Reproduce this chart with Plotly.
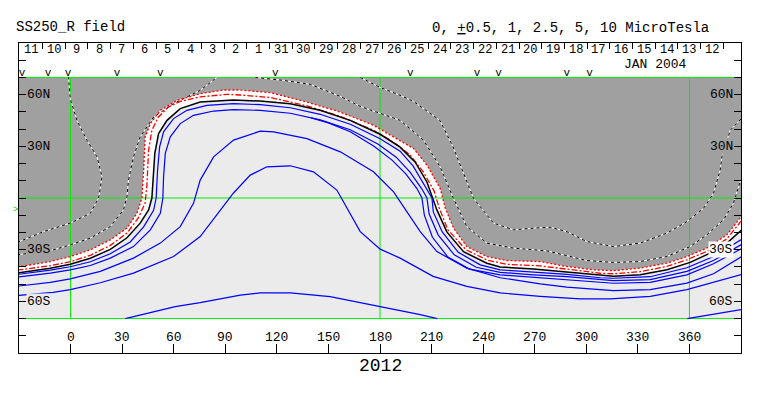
import plotly.graph_objects as go

# ---------------- data read from the map (Carrington longitude, latitude) -------------
# outer negative contour (black/white dashed), two pieces
neg_outer_a_lon = [-31, -15.7, -0.2, 11.5, 16.3, 18.3, 15.4, 9.5, 3.7, -0.2, -1.2]
neg_outer_a_lat = [-25.8, -19.5, -14.6, -8.9, 0, 12.3, 23.9, 33.6, 45.1, 57.7, 70]
neg_outer_b_lon = [168.5, 180.1, 191.7, 199.5, 214.8, 222.5, 228.6, 234.4, 246.0, 257.6, 269.3, 279.0,
                   288.7, 300.3, 315.8, 331.3, 346.9, 358.5, 368.2, 374.0, 377.9, 378.9, 383.7, 392]
neg_outer_b_lat = [70, 64.2, 59.6, 56.1, 45.1, 29.7, 14.3, -0.2, -14.6, -18.5, -17.5, -17.0,
                   -19.5, -25.3, -28.2, -26.2, -20.4, -13.7, -6.0, 2.7, 16.2, 23.9, 39.3, 48]
# inner negative contour (black/white dashed), two pieces
neg_inner_a_lon = [-31, -9.9, -0.2, 11.5, 23.1, 30.8, 32.8, 33.7, 36.6, 40.5, 48.3, 59.9, 75.4, 85.1]
neg_inner_a_lat = [-33, -30.1, -27.2, -23.3, -16.6, -6.9, 0.8, 10.4, 23.9, 35.5, 47.0, 54.8, 62.5, 70]
neg_inner_b_lon = [107.4, 123.7, 139.4, 156.9, 168.5, 180.1, 191.7, 205.3, 215.0, 222.7, 230.5, 242.2,
                   257.6, 277.1, 288.7, 300.3, 315.8, 331.3, 346.9, 360.4, 370.1, 379.8, 385.6, 389.5, 392]
neg_inner_b_lat = [70, 68.3, 66.0, 59.0, 53.2, 49.0, 45.1, 33.6, 18.1, -0.2, -16.6, -26.2,
                   -29.1, -30.7, -33.3, -36.3, -37.4, -36.9, -34.0, -28.2, -21.4, -12.7, -3.1, 9.4, 15]
# red dotted contour
red_dot_lon = [-31, -11.8, -0.2, 11.5, 23.1, 32.8, 38.6, 41.5, 42.5, 43.4, 46.4, 52.2, 61.9, 75.4, 89.0,
               98.7, 116.1, 137.5, 156.9, 176.2, 187.9, 199.5, 207.3, 215.0, 218.0, 222.8, 230.5, 242.2,
               253.8, 273.2, 288.7, 304.2, 315.8, 331.3, 346.9, 358.5, 370.1, 381.8, 392]
red_dot_lat = [-40.1, -36.9, -34.0, -30.1, -24.3, -17.5, -8.9, 0, 16.2, 35.5, 43.2, 50.9, 56.7, 60.6, 62.7,
               62.7, 61.2, 55.7, 49.9, 42.2, 35.5, 28.8, 19.1, 5.6, -6.0, -17.5, -28.2, -34.0,
               -36.3, -36.9, -39.8, -41.7, -42.2, -40.7, -37.8, -34.0, -29.1, -21.4, -8.4]
# red dash-dot contour
red_dd_lon = [-31, -11.8, -0.2, 11.5, 23.1, 32.8, 39.4, 43.4, 44.4, 45.4, 47.3, 51.0, 56.8, 63.8, 75.4,
              91.0, 98.7, 116.1, 137.5, 156.9, 176.2, 187.9, 197.6, 205.3, 211.5, 214.5, 219.5, 230.0,
              242.2, 253.8, 273.2, 288.7, 308.1, 315.8, 331.3, 346.9, 358.5, 370.1, 381.8, 392]
red_dd_lat = [-41.9, -39.3, -37.0, -33.3, -27.5, -20.4, -11.6, -2.9, 7.5, 27.8, 39.3, 46.9, 52.7, 56.1, 58.7,
              60.2, 59.8, 58.4, 53.5, 47.4, 39.3, 32.4, 24.9, 15.0, 4.0, -6.0, -18.5, -30.0,
              -36.0, -38.5, -39.4, -41.4, -43.7, -44.0, -42.8, -39.7, -35.9, -31.0, -23.7, -11]
# neutral line (black)
neutral_lon = [-31, -11.8, -0.2, 11.5, 23.1, 32.8, 40.5, 45.4, 47.3, 48.3, 49.0, 51.2, 56.1, 63.8, 75.4,
               94.8, 110.3, 127.8, 145.2, 162.7, 180.1, 191.7, 200.5, 207.3, 213.1, 218.9, 228.6, 242.2,
               249.9, 269.3, 288.7, 308.1, 315.8, 331.3, 346.9, 360.4, 372.0, 381.8, 392]
neutral_lat = [-43.5, -40.8, -38.5, -35.0, -29.8, -23.1, -14.6, -6.9, 0, 16.2, 25.9, 37.4, 45.1, 51.9, 55.7,
               56.9, 56.3, 54.7, 50.9, 45.1, 37.0, 29.5, 20.8, 9.3, -6.9, -19.7, -31.2, -37.9,
               -40.1, -41.2, -43.0, -45.1, -45.5, -44.6, -41.7, -37.4, -32.0, -26.2, -17]
# positive contours (blue)
pos1_lon = [-31, -11.8, -0.2, 11.5, 23.1, 34.7, 42.5, 48.3, 49.8, 50.6, 51.8, 54.1, 59.9, 67.7, 79.3,
            94.8, 110.3, 127.8, 145.2, 162.7, 180.1, 191.7, 199.3, 205.7, 210.2, 211.0, 216.2, 225.5,
            238.3, 249.9, 269.3, 288.7, 308.1, 315.8, 337.2, 358.5, 374.0, 392]
pos1_lat = [-44.4, -41.9, -39.9, -37.0, -32.4, -25.5, -16.8, -7.2, 0, 16.2, 29.7, 38.4, 46.1, 50.9, 53.8,
            54.8, 54.2, 52.4, 48.6, 42.8, 34.4, 27.2, 18.5, 7.5, 0, -8.1, -19.7, -31.5,
            -38.8, -41.7, -42.8, -44.3, -46.3, -46.6, -45.7, -40.5, -34.0, -23]
pos2_lon = [-31, -11.8, -0.2, 11.5, 23.1, 36.6, 46.4, 52.2, 53.7, 54.1, 55.1, 58.0, 63.8, 71.5, 83.2,
            94.8, 110.3, 127.8, 145.2, 162.7, 179.0, 189.4, 197.5, 204.4, 207.3, 208.6, 213.8, 223.2,
            236.0, 249.9, 269.3, 288.7, 315.8, 337.2, 358.5, 374.0, 392]
pos2_lat = [-45.9, -43.6, -41.7, -39.2, -34.9, -28.2, -18.5, -8.9, 0, 12.3, 25.9, 35.5, 43.2, 48.0, 50.5,
            51.3, 50.9, 49.2, 45.4, 39.6, 31.2, 23.7, 15.0, 5.2, 0, -9.3, -21.4, -33.0,
            -40.2, -43.2, -44.6, -45.7, -48.0, -47.4, -42.6, -36.3, -26]
pos2b_lon = [140, 150, 162.7, 176.5, 187, 195, 201.5, 204.4, 205.8, 210.5, 219.5, 232, 249.9, 269.3,
             288.7, 315.8, 337.2, 358.5, 374.0, 392]
pos2b_lat = [46.5, 43.6, 38.5, 30.0, 22.0, 14.0, 5.5, 0, -10.0, -22.8, -34.3, -41.3, -44.6, -46.0,
             -47.2, -49.5, -49.0, -44.6, -38.2, -28.5]
pos3_lon = [-31, -11.8, -0.2, 17.3, 36.6, 52.2, 63.8, 71.5, 75.4, 83.2, 94.8, 110.3, 118.1, 137.5, 156.9,
            176.2, 187.9, 195.6, 203.4, 213.1, 230.5, 249.9, 273.2, 288.7, 315.8, 337.2, 358.5, 374.0, 392]
pos3_lat = [-51.2, -49.0, -47.0, -42.6, -34.9, -26.2, -16.6, -3.1, 10.4, 23.9, 33.6, 38.8, 38.4, 34.5, 26.8,
            15.2, 3.6, -7.9, -19.5, -31.1, -40.7, -46.3, -49.9, -51.8, -53.8, -53.2, -49.4, -44.0, -33]
pos4_lon = [-31, -10.1, -0.2, 17.3, 36.6, 59.9, 75.4, 87.1, 94.8, 104.5, 114.2, 127.8, 141.3, 154.9, 160.8,
            168.5, 180.1, 191.7, 210.9, 230.5, 249.9, 273.2, 296.4, 313.9, 337.2, 358.5, 392]
pos4_lat = [-56.6, -54.8, -53.2, -49.2, -43.6, -34.0, -22.4, -6.9, 2.9, 13.3, 18.1, 18.7, 15.2, 4.6, -6.0,
            -19.5, -29.7, -34.9, -45.5, -51.3, -55.1, -57.1, -58.6, -58.6, -57.1, -53.2, -44]
pos5a_lon = [31.8, 46.4, 60.9, 75.4, 98.7, 110.3, 127.8, 151.0, 180.1, 203.4, 213.3]
pos5a_lat = [-70, -66.5, -63.1, -60.8, -56.4, -55.1, -55.1, -57.3, -62.9, -67.7, -70]
pos5b_lon = [358.7, 372.1, 392]
pos5b_lat = [-70, -67.7, -64.5]

# axis / label values
lon_tick_vals = [0, 30, 60, 90, 120, 150, 180, 210, 240, 270, 300, 330, 360]
lat_tick_vals = [-80, -70, -60, -50, -40, -30, -20, -10, 0, 10, 20, 30, 40, 50, 60, 70, 80]
lat_label_vals = [60, 30, -30, -60]
lat_label_text = ["60N", "30N", "30S", "60S"]
day_labels = [11, 10, 9, 8, 7, 6, 5, 4, 3, 2, 1, 31, 30, 29, 28, 27, 26, 25, 24, 23, 22, 21, 20,
              19, 18, 17, 16, 15, 14, 13, 12]
day_first_boundary = -29.5            # longitude of the first day boundary
carrington_period = 27.2753           # days per rotation
obs_lons = [-28.3, -13.1, -1.5, 27.0, 52.2, 119.1, 197.6, 236.4, 248.9, 288.7, 301.9]
earth_lat = -7
green_lons = [0, 180, 360]
green_lats = [-70, 0, 70]

DARK = "#A0A0A0"
LIGHT = "#EBEBEB"
FONT = "Liberation Mono"

fig = go.Figure()

# fills: white band between red dotted and neutral line; light gray positive region
fig.add_trace(go.Scatter(x=red_dot_lon + [392, -31], y=red_dot_lat + [-70, -70], fill="toself",
                         fillcolor="white", mode="none", hoverinfo="skip"))
fig.add_trace(go.Scatter(x=neutral_lon + [392, -31], y=neutral_lat + [-70, -70], fill="toself",
                         fillcolor=LIGHT, mode="none", hoverinfo="skip"))

# green grid lines
for gl in green_lons:
    fig.add_trace(go.Scatter(x=[gl, gl], y=[-70, 70], mode="lines",
                             line=dict(color="#00EE00", width=1), hoverinfo="skip"))
for gl in green_lats:
    fig.add_trace(go.Scatter(x=[-31, 392], y=[gl, gl], mode="lines",
                             line=dict(color="#00EE00", width=1), hoverinfo="skip"))


def add_line(lon, lat, color, width, dash="solid"):
    fig.add_trace(go.Scatter(x=lon, y=lat, mode="lines", hoverinfo="skip",
                             line=dict(color=color, width=width, dash=dash)))


for lo, la in [(neg_outer_a_lon, neg_outer_a_lat), (neg_outer_b_lon, neg_outer_b_lat),
               (neg_inner_a_lon, neg_inner_a_lat), (neg_inner_b_lon, neg_inner_b_lat)]:
    add_line(lo, la, "white", 1)
    add_line(lo, la, "black", 1, "3px,3px")

add_line(red_dot_lon, red_dot_lat, "#FF0000", 1.3, "2px,2px")
add_line(red_dd_lon, red_dd_lat, "#FF0000", 1.3, "6px,2px,2px,2px")
add_line(neutral_lon, neutral_lat, "black", 1.5)
for lo, la in [(pos1_lon, pos1_lat), (pos2_lon, pos2_lat), (pos2b_lon, pos2b_lat), (pos3_lon, pos3_lat),
               (pos4_lon, pos4_lat), (pos5a_lon, pos5a_lat), (pos5b_lon, pos5b_lat)]:
    add_line(lo, la, "#0000FF", 1.2)

# observation markers
fig.add_trace(go.Scatter(x=obs_lons, y=[72.2] * len(obs_lons), mode="text", text=["v"] * len(obs_lons),
                         textfont=dict(family=FONT, size=11, color="black"), hoverinfo="skip",
                         cliponaxis=False))

# day boundaries on the top axis
day_step = 360.0 / carrington_period
day_bounds = [day_first_boundary + i * day_step for i in range(len(day_labels) + 1)]
day_centers = [b + day_step / 2 for b in day_bounds[:-1]]

annotations = []
for d, c in zip(day_labels, day_centers):
    annotations.append(dict(x=c, y=86.1, xref="x", yref="y", text=str(d), showarrow=False,
                            borderpad=0, font=dict(family=FONT, size=12, color="black")))
annotations.append(dict(x=340.3, y=77.3, xref="x", yref="y", text="JAN 2004", showarrow=False,
                        borderpad=0, font=dict(family=FONT, size=13, color="black")))
for v in lon_tick_vals:
    annotations.append(dict(x=v, y=-80.8, xref="x", yref="y", text=str(v), showarrow=False,
                            borderpad=0, font=dict(family=FONT, size=13, color="black")))
left_bg = [DARK, DARK, DARK, LIGHT]
right_bg = [DARK, DARK, "white", LIGHT]
for v, t, lb, rb in zip(lat_label_vals, lat_label_text, left_bg, right_bg):
    annotations.append(dict(x=0, xref="paper", xanchor="left", xshift=7, y=v, yref="y", text=t,
                            showarrow=False, bgcolor=lb, borderpad=0,
                            font=dict(family=FONT, size=13, color="black")))
    annotations.append(dict(x=1, xref="paper", xanchor="right", xshift=-7, y=v, yref="y", text=t,
                            showarrow=False, bgcolor=rb, borderpad=0,
                            font=dict(family=FONT, size=13, color="black")))
annotations.append(dict(x=0, xref="paper", xanchor="right", xshift=1, y=earth_lat, yref="y", text=">",
                        showarrow=False, font=dict(family=FONT, size=9, color="#00CC00")))
annotations.append(dict(x=0, xref="paper", xanchor="left", xshift=-4, y=1, yref="paper",
                        yanchor="middle", yshift=16,
                        text="SS250_R field", showarrow=False, borderpad=0,
                        font=dict(family=FONT, size=14, color="black")))
annotations.append(dict(x=0.7645, xref="paper", xanchor="center", y=1, yref="paper",
                        yanchor="middle", yshift=15,
                        text="0, <u>+</u>0.5, 1, 2.5, 5, 10 MicroTesla", showarrow=False, borderpad=0,
                        font=dict(family=FONT, size=14, color="black")))
annotations.append(dict(x=0.5, xref="paper", xanchor="center", y=0, yref="paper",
                        yanchor="middle", yshift=-13,
                        text="2012", showarrow=False, borderpad=0,
                        font=dict(family=FONT, size=18, color="black")))

# page body has an 8px default margin, so the figure is 8px smaller and margins shifted
fig.update_layout(
    width=755, height=388,
    margin=dict(l=11, r=22, t=35, b=43),
    paper_bgcolor="white", plot_bgcolor="white",
    showlegend=False,
    xaxis=dict(range=[-30, 390], showgrid=False, zeroline=False, showline=True, mirror=True,
               linecolor="black", linewidth=1, ticks="inside", ticklen=9, tickcolor="black",
               tickvals=lon_tick_vals, showticklabels=False),
    xaxis2=dict(range=[-30, 390], overlaying="x", side="top", showgrid=False, zeroline=False,
                showline=False, ticks="inside", ticklen=6, tickcolor="black",
                tickvals=day_bounds, showticklabels=False),
    yaxis=dict(range=[-90, 90], showgrid=False, zeroline=False, showline=True, mirror="ticks",
               linecolor="black", linewidth=1, ticks="inside", ticklen=7, tickcolor="black",
               tickvals=lat_tick_vals, showticklabels=False),
    shapes=[dict(type="rect", xref="paper", yref="y", x0=0, x1=1, y0=-70, y1=70,
                 fillcolor=DARK, line=dict(width=0), layer="below")],
    annotations=annotations,
)
fig.add_trace(go.Scatter(x=[None], y=[None], xaxis="x2", yaxis="y", showlegend=False))

fig.write_html("out.html")
